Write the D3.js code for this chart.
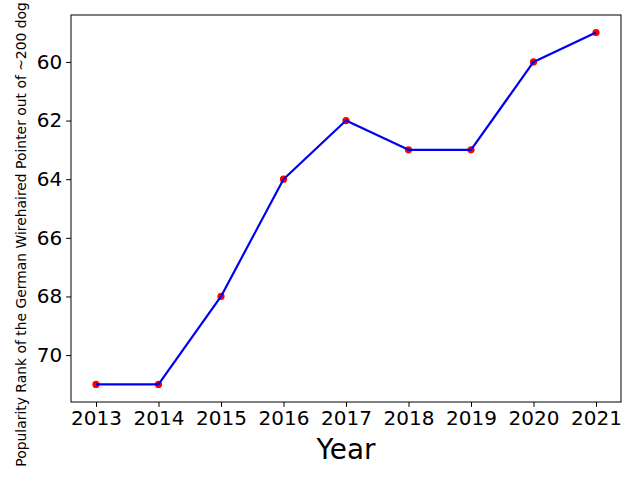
<!DOCTYPE html>
<html>
<head>
<meta charset="utf-8">
<script src="https://cdn.jsdelivr.net/npm/d3@7"></script>
<style>
  html, body { margin: 0; padding: 0; background: #fff; }
  svg { display: block; font-family: "DejaVu Sans", sans-serif; }
</style>
</head>
<body>
<svg id="chart" width="640" height="480"></svg>
<script>
const years = [2013, 2014, 2015, 2016, 2017, 2018, 2019, 2020, 2021];
const ranks = [71, 71, 68, 64, 62, 63, 63, 60, 59];
const yTicks = [60, 62, 64, 66, 68, 70];

const margin = { left: 71, right: 19, top: 15, bottom: 78 };
const W = 640, H = 480;
const svg = d3.select('#chart');

const x = d3.scaleLinear().domain([2012.6, 2021.4]).range([margin.left, W - margin.right]);
const y = d3.scaleLinear().domain([58.4, 71.6]).range([margin.top, H - margin.bottom]);

function styleAxis(g) {
  g.select('.domain').remove();
  g.attr('font-family', '"DejaVu Sans", sans-serif');
  g.selectAll('.tick text').attr('font-size', 20).attr('fill', '#000');
  g.selectAll('.tick line').attr('stroke', '#000');
}

svg.append('g')
  .attr('transform', `translate(0,${H - margin.bottom})`)
  .call(d3.axisBottom(x).tickValues(years).tickFormat(d3.format('d')).tickSize(4.9).tickPadding(4))
  .call(styleAxis);

svg.append('g')
  .attr('transform', `translate(${margin.left},0)`)
  .call(d3.axisLeft(y).tickValues(yTicks).tickSize(4.9).tickPadding(4))
  .call(styleAxis);

svg.append('rect')
  .attr('x', margin.left).attr('y', margin.top)
  .attr('width', W - margin.left - margin.right)
  .attr('height', H - margin.top - margin.bottom)
  .attr('fill', 'none').attr('stroke', '#000').attr('stroke-width', 1);

const pts = years.map((yr, i) => ({ yr, r: ranks[i] }));

svg.append('g')
  .selectAll('circle')
  .data(pts)
  .join('circle')
  .attr('cx', d => x(d.yr)).attr('cy', d => y(d.r))
  .attr('r', 3.6)
  .attr('fill', 'red');

svg.append('path')
  .datum(pts)
  .attr('fill', 'none')
  .attr('stroke', '#0000ee')
  .attr('stroke-width', 2.2)
  .attr('stroke-linejoin', 'round')
  .attr('d', d3.line().x(d => x(d.yr)).y(d => y(d.r)));

svg.append('text')
  .attr('x', (margin.left + W - margin.right) / 2)
  .attr('y', 459)
  .attr('text-anchor', 'middle')
  .attr('font-size', 27.8)
  .text('Year');

svg.append('text')
  .attr('transform', `translate(26,${(margin.top + H - margin.bottom) / 2}) rotate(-90)`)
  .attr('text-anchor', 'middle')
  .attr('font-size', 13.9)
  .text('Popularity Rank of the German Wirehaired Pointer out of ~200 dog breeds');
</script>
</body>
</html>
